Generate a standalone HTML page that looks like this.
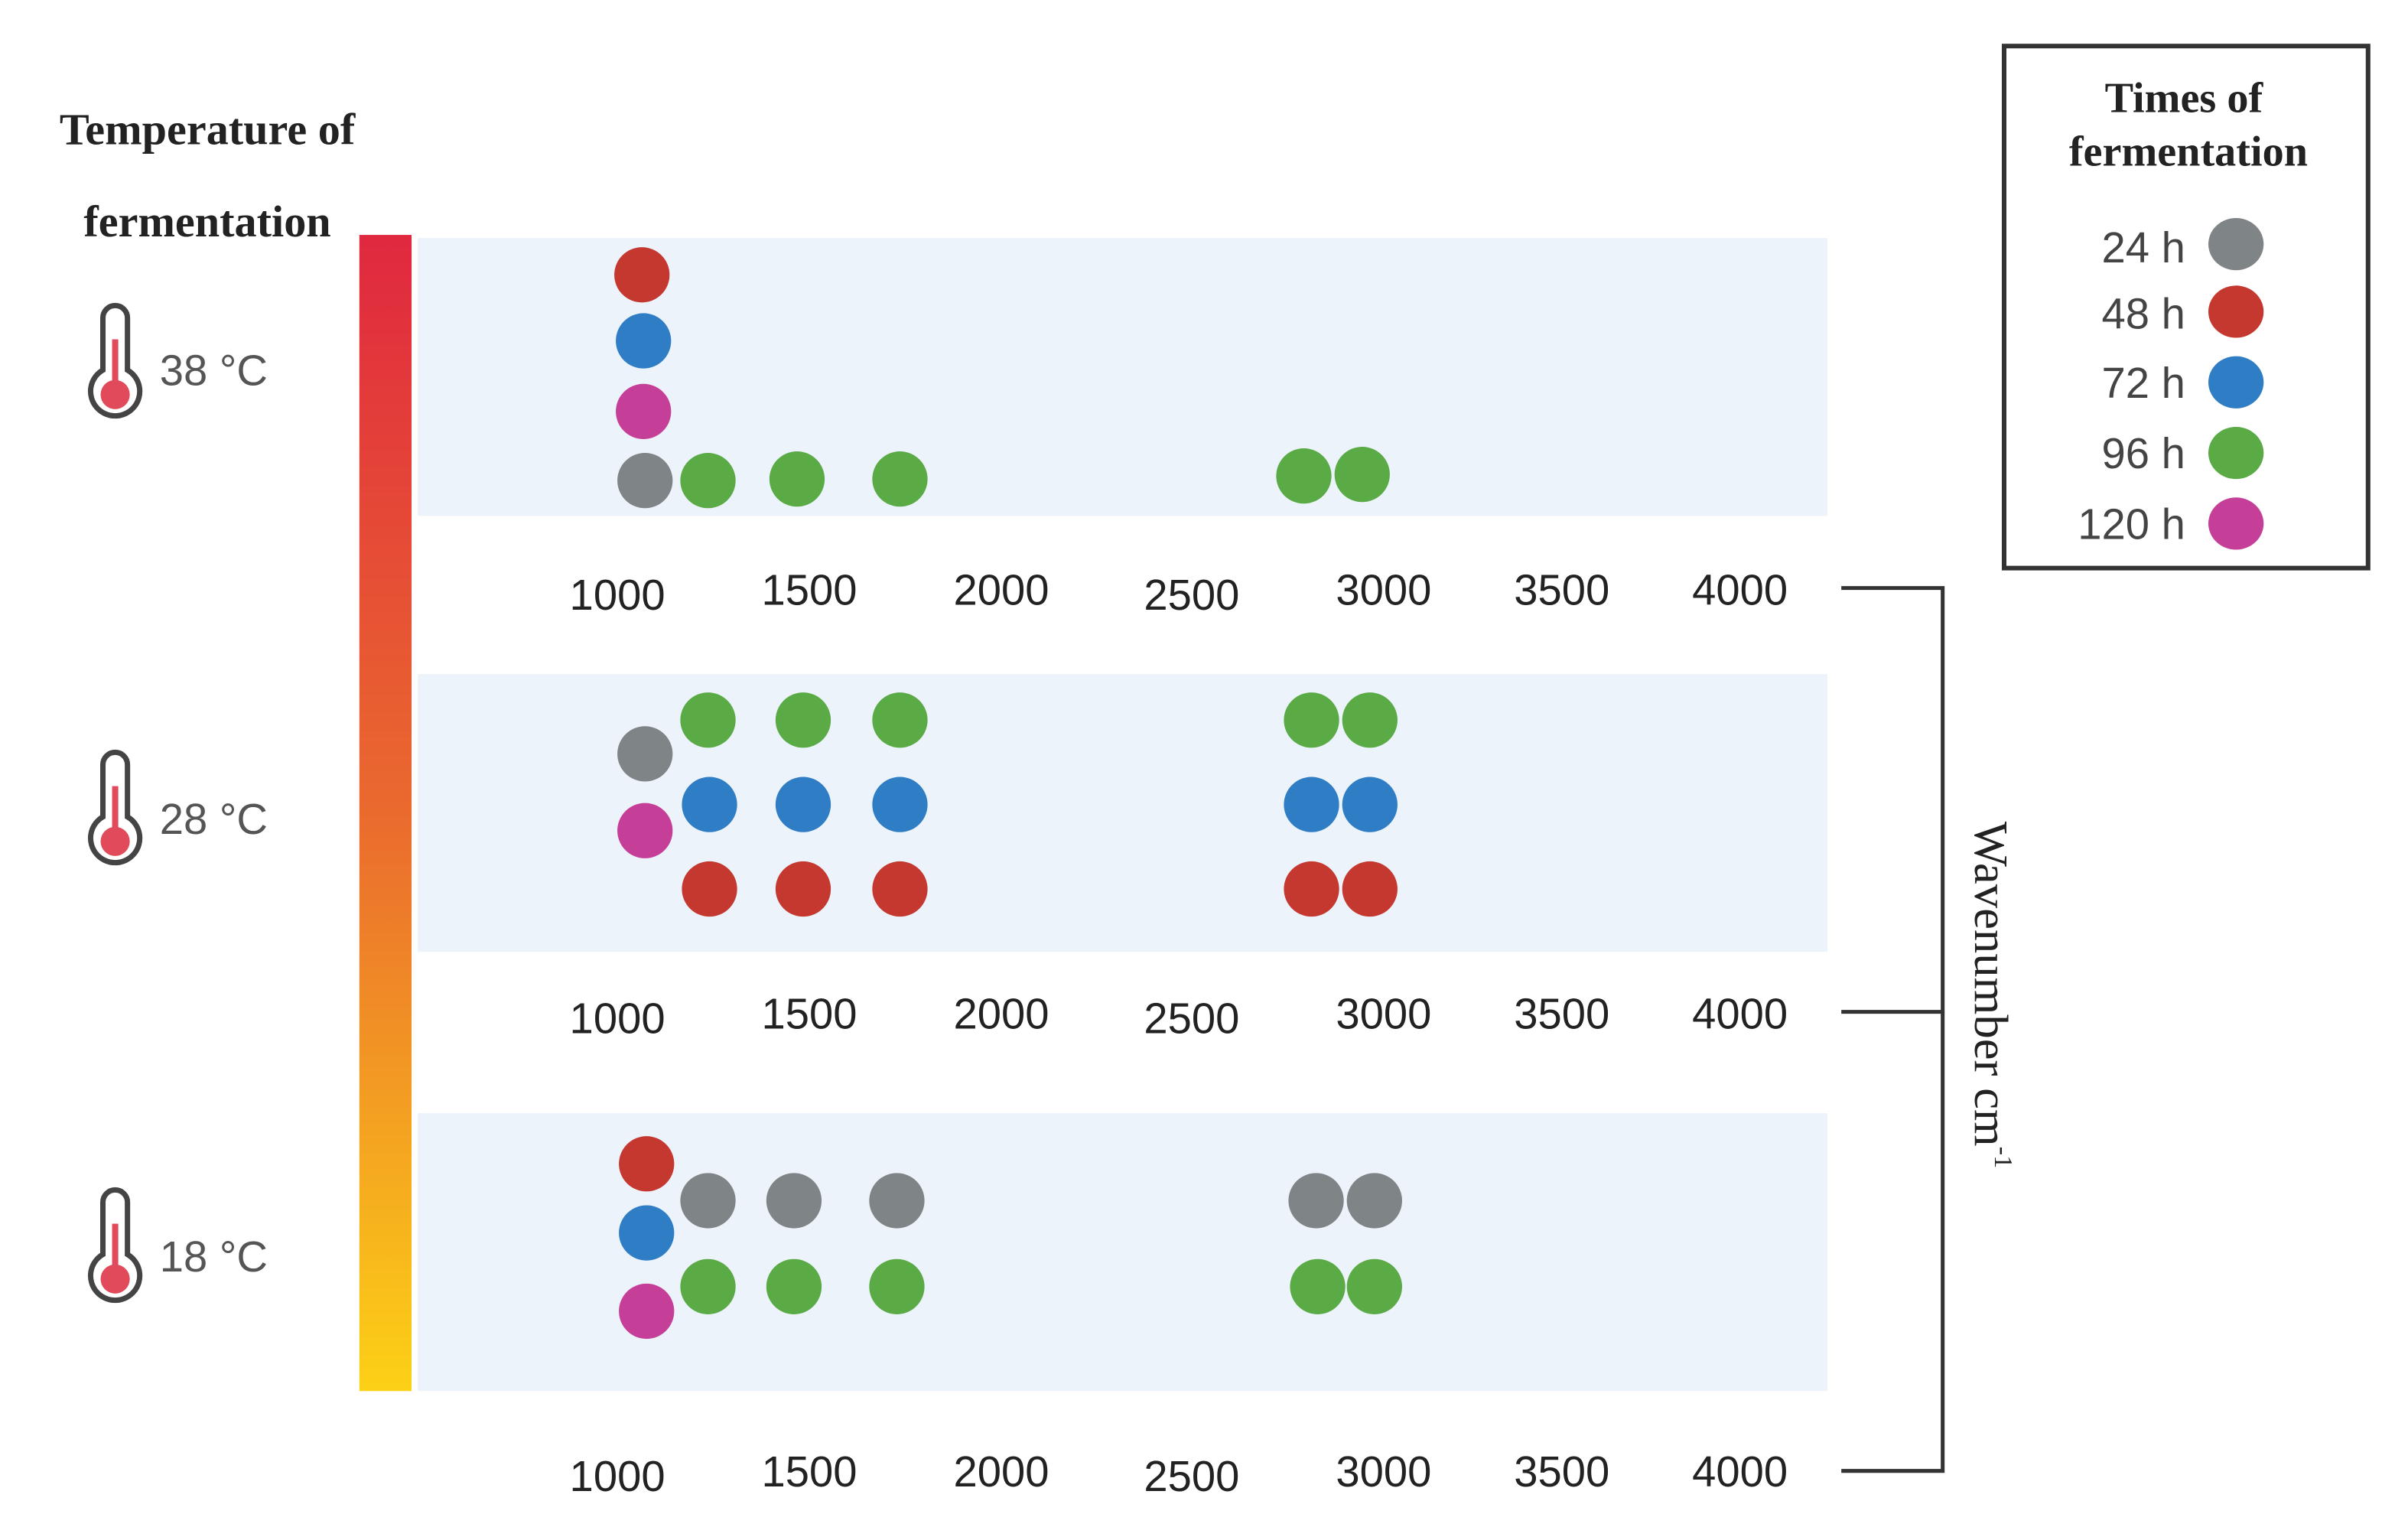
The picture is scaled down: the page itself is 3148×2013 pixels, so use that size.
<!DOCTYPE html>
<html><head><meta charset="utf-8"><style>
html,body{margin:0;padding:0;background:#fff;}
svg{display:block;}
.t{font-family:"Liberation Sans Narrow","Liberation Sans",sans-serif;font-size:28px;fill:#222;text-anchor:middle;}
.s{font-family:"Liberation Serif",serif;fill:#222;}
.c{font-family:"Liberation Sans",sans-serif;font-size:28px;fill:#555;}
.l{font-family:"Liberation Sans",sans-serif;font-size:28px;fill:#444;text-anchor:end;}
</style></head><body>
<svg width="3148" height="2013" viewBox="0 0 1568 1003" preserveAspectRatio="none" xmlns="http://www.w3.org/2000/svg">
<defs>
<linearGradient id="g" x1="0" y1="0" x2="0" y2="1">
<stop offset="0" stop-color="#e0283f"/><stop offset="0.5" stop-color="#ea6a2e"/><stop offset="1" stop-color="#fcd116"/>
</linearGradient>
<g id="th">
<path d="M-8,-50 a8,8 0 0 1 16,0 v34 a16,16 0 1 1 -16,0 z" fill="#fff" stroke="#444" stroke-width="3.5"/>
<rect x="-2" y="-36" width="4" height="30" fill="#e04a5a"/>
<circle cx="0" cy="0" r="9.5" fill="#e04a5a"/>
</g>
</defs>
<rect x="234" y="153" width="34" height="753" fill="url(#g)"/>
<rect x="272" y="155" width="918" height="181" fill="#edf3fb"/>
<rect x="272" y="439" width="918" height="181" fill="#edf3fb"/>
<rect x="272" y="725" width="918" height="181" fill="#edf3fb"/>

<text class="s" x="135" y="94" font-size="29" text-anchor="middle" font-weight="bold" fill="#222">Temperature of</text>
<text class="s" x="135" y="154" font-size="29" text-anchor="middle" font-weight="bold" fill="#222">fermentation</text>

<use href="#th" x="75" y="257"/>
<use href="#th" x="75" y="548"/>
<use href="#th" x="75" y="833"/>
<text class="c" x="104" y="251">38 °C</text>
<text class="c" x="104" y="543">28 °C</text>
<text class="c" x="104" y="828">18 °C</text>

<g>
<circle cx="418" cy="179" r="18" fill="#c4382f"/>
<circle cx="419" cy="222" r="18" fill="#2e7dc5"/>
<circle cx="419" cy="268" r="18" fill="#c53e98"/>
<circle cx="420" cy="313" r="18" fill="#7f8487"/>
<circle cx="461" cy="313" r="18" fill="#5aaa45"/>
<circle cx="519" cy="312" r="18" fill="#5aaa45"/>
<circle cx="586" cy="312" r="18" fill="#5aaa45"/>
<circle cx="849" cy="310" r="18" fill="#5aaa45"/>
<circle cx="887" cy="309" r="18" fill="#5aaa45"/>
<circle cx="420" cy="491" r="18" fill="#7f8487"/>
<circle cx="420" cy="541" r="18" fill="#c53e98"/>
<circle cx="461" cy="469" r="18" fill="#5aaa45"/>
<circle cx="523" cy="469" r="18" fill="#5aaa45"/>
<circle cx="586" cy="469" r="18" fill="#5aaa45"/>
<circle cx="854" cy="469" r="18" fill="#5aaa45"/>
<circle cx="892" cy="469" r="18" fill="#5aaa45"/>
<circle cx="462" cy="524" r="18" fill="#2e7dc5"/>
<circle cx="523" cy="524" r="18" fill="#2e7dc5"/>
<circle cx="586" cy="524" r="18" fill="#2e7dc5"/>
<circle cx="854" cy="524" r="18" fill="#2e7dc5"/>
<circle cx="892" cy="524" r="18" fill="#2e7dc5"/>
<circle cx="462" cy="579" r="18" fill="#c4382f"/>
<circle cx="523" cy="579" r="18" fill="#c4382f"/>
<circle cx="586" cy="579" r="18" fill="#c4382f"/>
<circle cx="854" cy="579" r="18" fill="#c4382f"/>
<circle cx="892" cy="579" r="18" fill="#c4382f"/>
<circle cx="421" cy="758" r="18" fill="#c4382f"/>
<circle cx="421" cy="803" r="18" fill="#2e7dc5"/>
<circle cx="421" cy="854" r="18" fill="#c53e98"/>
<circle cx="461" cy="782" r="18" fill="#7f8487"/>
<circle cx="517" cy="782" r="18" fill="#7f8487"/>
<circle cx="584" cy="782" r="18" fill="#7f8487"/>
<circle cx="857" cy="782" r="18" fill="#7f8487"/>
<circle cx="895" cy="782" r="18" fill="#7f8487"/>
<circle cx="461" cy="838" r="18" fill="#5aaa45"/>
<circle cx="517" cy="838" r="18" fill="#5aaa45"/>
<circle cx="584" cy="838" r="18" fill="#5aaa45"/>
<circle cx="858" cy="838" r="18" fill="#5aaa45"/>
<circle cx="895" cy="838" r="18" fill="#5aaa45"/>
</g>

<g class="t">
<text x="402" y="397">1000</text><text x="527" y="394">1500</text><text x="652" y="394">2000</text><text x="776" y="397">2500</text><text x="901" y="394">3000</text><text x="1017" y="394">3500</text><text x="1133" y="394">4000</text>
<text x="402" y="673">1000</text><text x="527" y="670">1500</text><text x="652" y="670">2000</text><text x="776" y="673">2500</text><text x="901" y="670">3000</text><text x="1017" y="670">3500</text><text x="1133" y="670">4000</text>
<text x="402" y="971">1000</text><text x="527" y="968">1500</text><text x="652" y="968">2000</text><text x="776" y="971">2500</text><text x="901" y="968">3000</text><text x="1017" y="968">3500</text><text x="1133" y="968">4000</text>
</g>

<path d="M1199,383 H1265 V958 H1199 M1199,659 H1265" fill="none" stroke="#333" stroke-width="2.5"/>
<text transform="translate(1286,648) rotate(90)" text-anchor="middle" font-family="Liberation Serif, serif" font-size="31" fill="#222" textLength="226" lengthAdjust="spacingAndGlyphs">Wavenumber cm<tspan font-size="17" dy="-13">-1</tspan></text>

<rect x="1305" y="30" width="237" height="340" fill="#fff" stroke="#333" stroke-width="3"/>
<text class="s" x="1422" y="73" font-size="28" text-anchor="middle" font-weight="bold">Times of</text>
<text class="s" x="1425" y="108" font-size="28" text-anchor="middle" font-weight="bold">fermentation</text>
<text class="l" x="1423" y="171">24 h</text>
<text class="l" x="1423" y="214">48 h</text>
<text class="l" x="1423" y="259">72 h</text>
<text class="l" x="1423" y="305">96 h</text>
<text class="l" x="1423" y="351">120 h</text>
<ellipse cx="1456" cy="159" rx="18" ry="17" fill="#7f8487"/>
<ellipse cx="1456" cy="203" rx="18" ry="17" fill="#c4382f"/>
<ellipse cx="1456" cy="249" rx="18" ry="17" fill="#2e7dc5"/>
<ellipse cx="1456" cy="295" rx="18" ry="17" fill="#5aaa45"/>
<ellipse cx="1456" cy="341" rx="18" ry="17" fill="#c53e98"/>
</svg>
</body></html>
